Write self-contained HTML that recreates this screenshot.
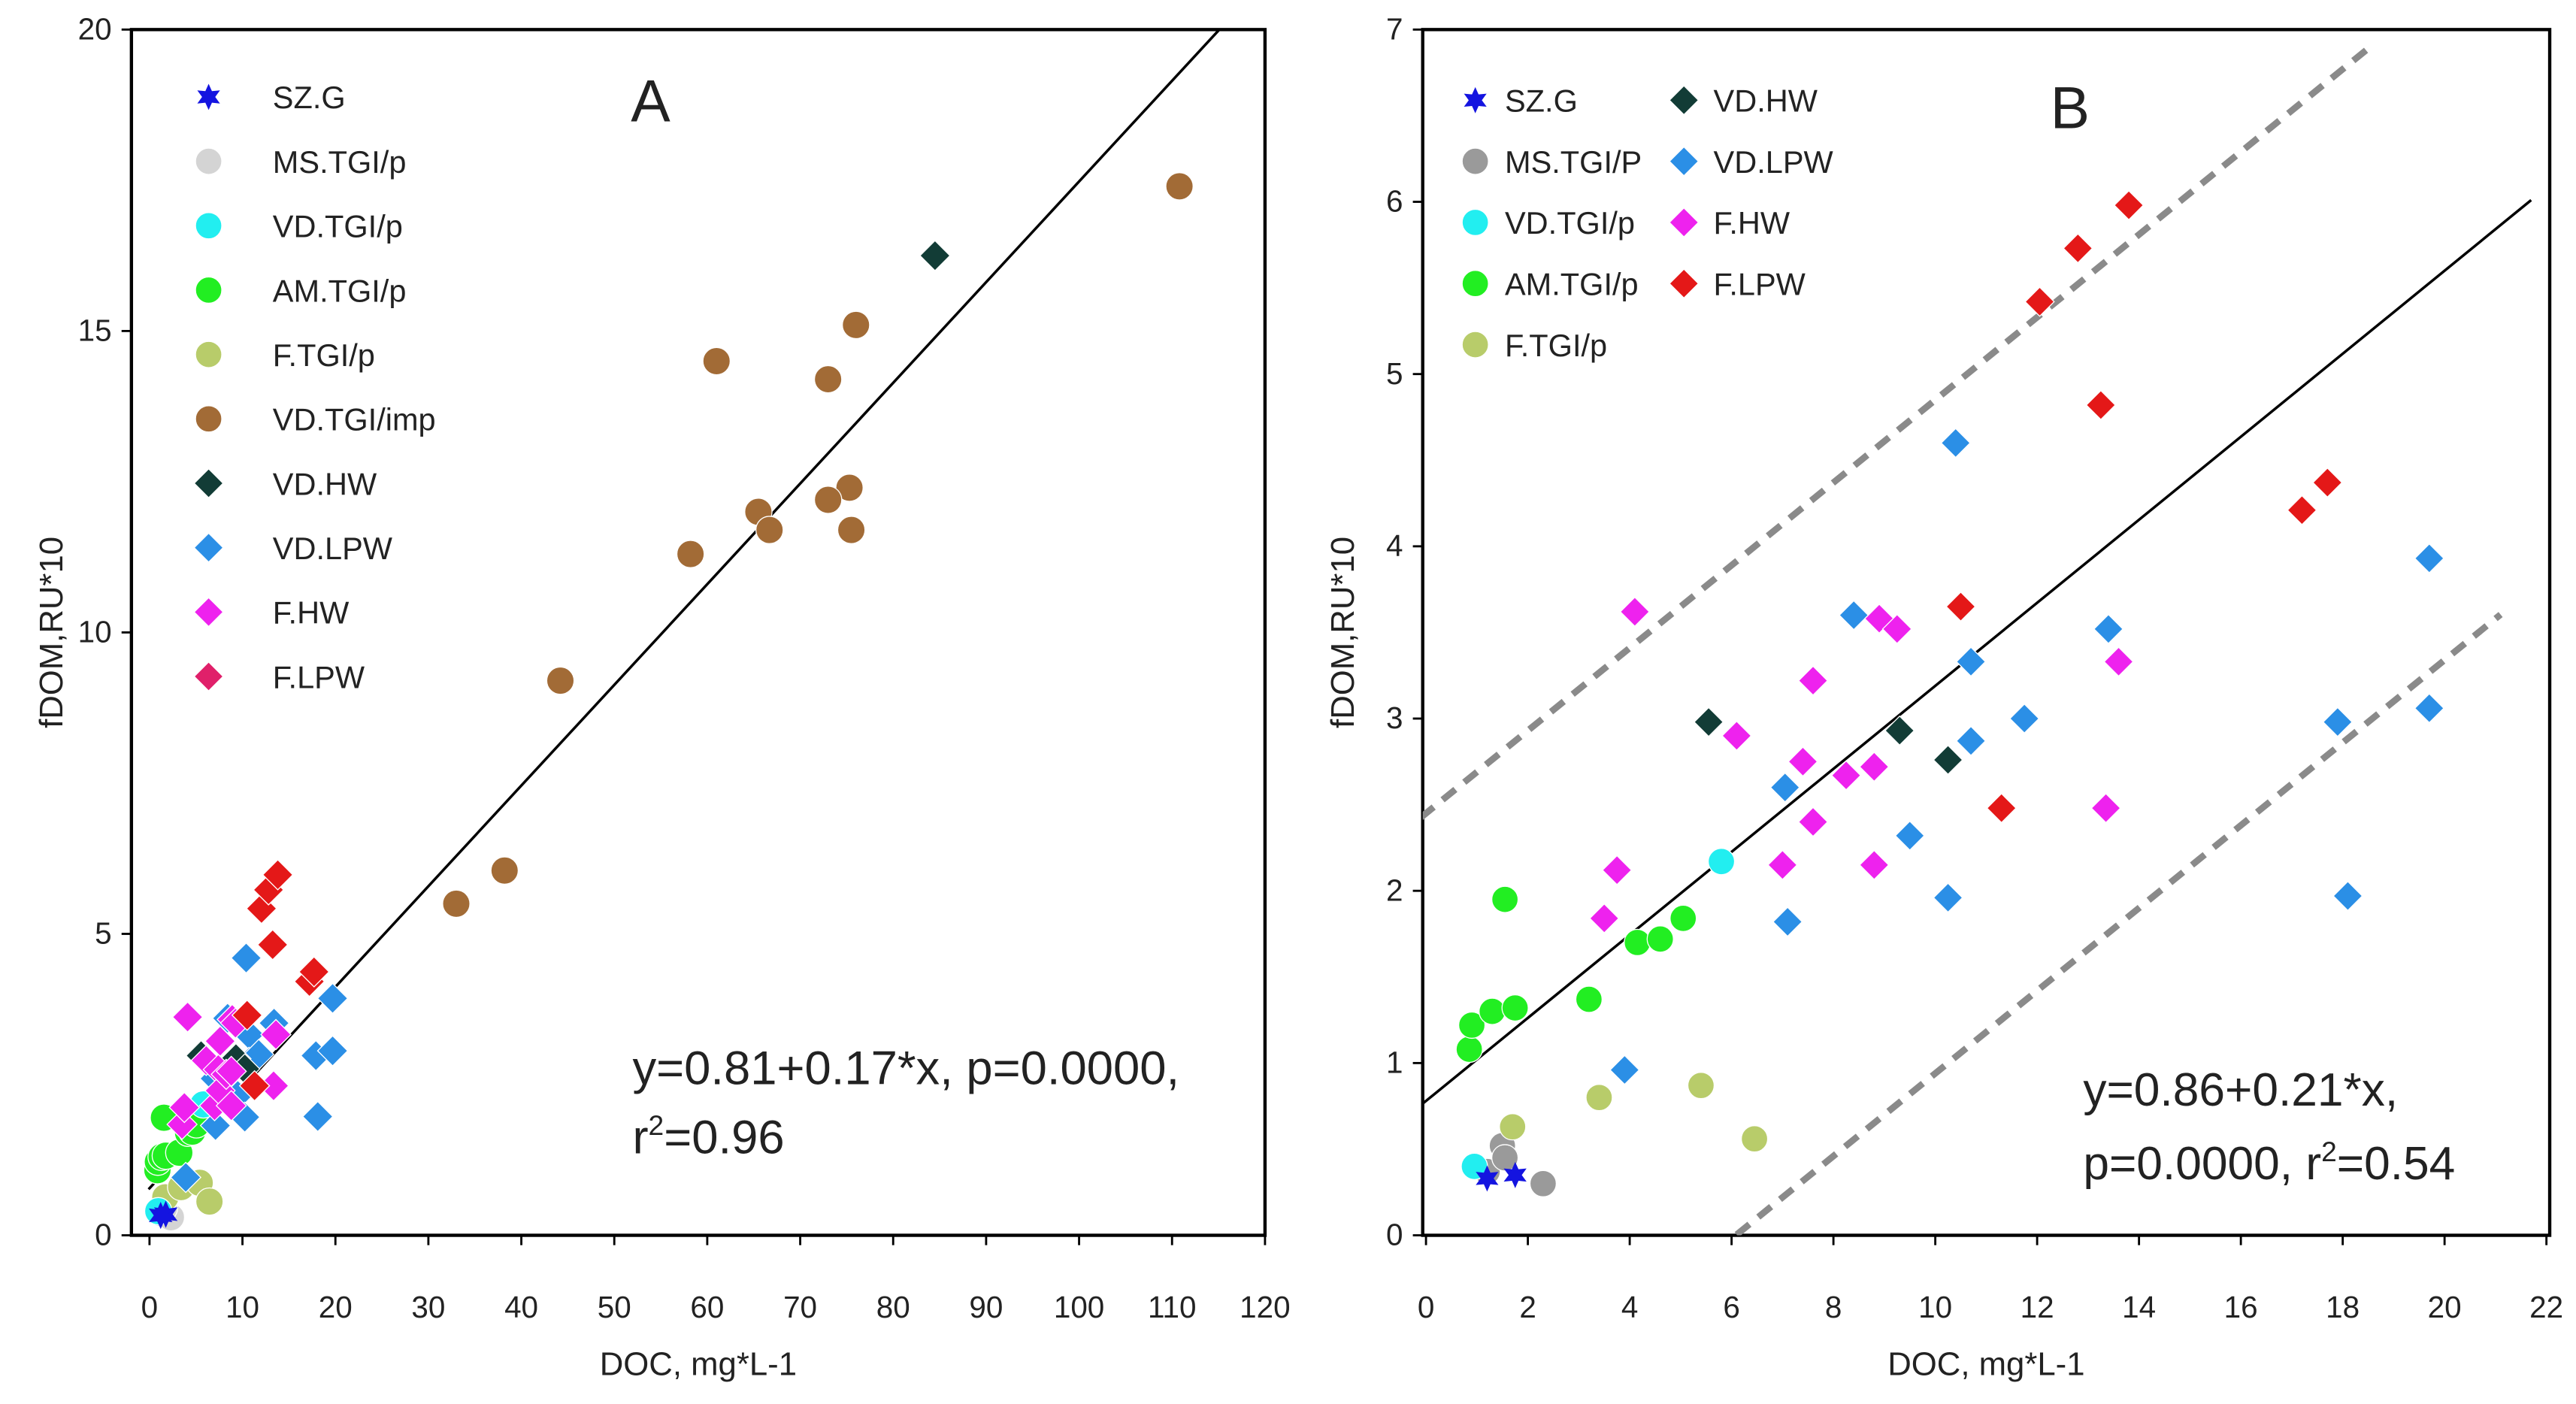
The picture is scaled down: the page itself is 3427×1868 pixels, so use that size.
<!DOCTYPE html>
<html><head><meta charset="utf-8"><style>
html,body{margin:0;padding:0;background:#fff;}
svg{display:block;font-family:"Liberation Sans",sans-serif;}
</style></head><body>
<svg id="chart" width="3427" height="1868" viewBox="0 0 1568 854.7" preserveAspectRatio="none" xmlns="http://www.w3.org/2000/svg">
<rect width="1568" height="855" fill="#fff"/>
<g id="pa"></g>
<g id="pb"></g>
</svg>
<script>
// ---- Data: panel B (also low cluster of panel A) ----
const szgX=[1.75,1.2]; const szgY=[0.35,0.33];
const msX=[1.2,1.5,2.3,1.55]; const msY=[0.37,0.52,0.3,0.45];
const vdpX=[0.95,5.8]; const vdpY=[0.4,2.17];
const amX=[0.85,0.9,1.3,1.75,1.55,3.2,4.15,4.6,5.05]; const amY=[1.08,1.22,1.3,1.32,1.95,1.37,1.7,1.72,1.84];
const ftX=[1.7,3.4,5.4,6.45]; const ftY=[0.63,0.8,0.87,0.56];
const hwX=[5.55,9.3,10.25]; const hwY=[2.98,2.93,2.76];
const lpwX=[3.9,7.1,7.05,8.4,9.5,10.25,10.4,10.7,10.7,11.75,13.4,17.9,18.1,19.7,19.7];
const lpwY=[0.96,1.82,2.6,3.6,2.32,1.96,4.6,3.33,2.87,3.0,3.52,2.98,1.97,3.93,3.06];
const fhwX=[4.1,3.5,3.75,6.1,7,7.4,7.6,7.6,8.25,8.8,8.8,8.9,9.25,13.35,13.6];
const fhwY=[3.62,1.84,2.12,2.9,2.15,2.75,2.4,3.22,2.67,2.72,2.15,3.58,3.52,2.48,3.33];
const flpX=[10.5,11.3,12.05,12.8,13.25,13.8,17.2,17.7];
const flpY=[3.65,2.48,5.42,5.73,4.82,5.98,4.21,4.37];
// ---- Data: panel A extra ----
const impX=[110.8,61,76,73,75.3,73,65.5,66.7,75.5,58.2,44.2,38.2,33];
const impY=[17.4,14.5,15.1,14.2,12.4,12.2,12.0,11.7,11.7,11.3,9.2,6.05,5.5];
const hwAX=[84.5]; const hwAY=[16.25];
const xTicksA=[0,10,20,30,40,50,60,70,80,90,100,110,120];
const yTicksA=[0,5,10,15,20];
const xTicksB=[0,2,4,6,8,10,12,14,16,18,20,22];
const yTicksB=[0,1,2,3,4,5,6,7];
const fitA=[0.78,0.167]; const fitB=[0.78,0.241];
const bandUpper=[2.45,0.24]; const bandLower=[-1.46,0.24];

const NS="http://www.w3.org/2000/svg";
function mk(parent,tag,attrs,text){const e=document.createElementNS(NS,tag);for(const k in attrs)e.setAttribute(k,attrs[k]);if(text!==undefined)e.textContent=text;parent.appendChild(e);return e;}
const C={szg:"#1414e0",msA:"#d4d4d4",msB:"#9a9a9a",vdp:"#22eef0",am:"#22ee22",ft:"#b8cc6a",imp:"#a26b36",hw:"#123c36",lpw:"#2b8fe6",fhw:"#ee22ee",flp:"#e41818",flpA:"#e0206a"};

function marker(g,type,cx,cy,color,s,name){
  let e;
  if(type==="c") e=mk(g,"circle",{cx:cx,cy:cy,r:s,fill:color,stroke:"#fff","stroke-width":0.6});
  else if(type==="d") e=mk(g,"polygon",{points:`${cx},${cy-s*1.1} ${cx+s*1.1},${cy} ${cx},${cy+s*1.1} ${cx-s*1.1},${cy}`,fill:color,stroke:"#fff","stroke-width":0.6});
  else { let p=[];for(let i=0;i<12;i++){const r=i%2?s*0.5:s;const a=-Math.PI/2+i*Math.PI/6;p.push((cx+r*Math.cos(a)).toFixed(1)+","+(cy+r*Math.sin(a)).toFixed(1));}
    e=mk(g,"polygon",{points:p.join(" "),fill:color}); }
  
  
  return e;
}

function panel(g,o){
  const sx=v=>o.x0+(v-o.xmin)*(o.x1-o.x0)/(o.xmax-o.xmin);
  const sy=v=>o.y0-(v-o.ymin)*(o.y0-o.y1)/(o.ymax-o.ymin);
  const clip="clip"+o.id;
  const cp=mk(g,"clipPath",{id:clip});mk(cp,"rect",{x:o.L,y:o.T,width:o.R-o.L,height:o.B-o.T});
  o.xt.forEach(t=>{const x=sx(t);
    const tk=mk(g,"line",{x1:x,y1:o.B,x2:x,y2:o.B+6,stroke:"#000","stroke-width":1.3});
    
    const lb=mk(g,"text",{x:x,y:o.B+50,"font-size":18.5,"text-anchor":"middle",fill:"#222"},String(t));
    });
  o.yt.forEach(t=>{const y=sy(t);
    const tk=mk(g,"line",{x1:o.L-6,y1:y,x2:o.L,y2:y,stroke:"#000","stroke-width":1.3});
    
    const lb=mk(g,"text",{x:o.L-12,y:y+6,"font-size":18.5,"text-anchor":"end",fill:"#222"},String(t));
    });
  const fr=mk(g,"rect",{x:o.L,y:o.T,width:o.R-o.L,height:o.B-o.T,fill:"none",stroke:"#000","stroke-width":2});
  
  const inner=mk(g,"g",{"clip-path":`url(#${clip})`});
  function line(ab,xa,xb,attrs,name){const l=mk(inner,"line",Object.assign({x1:sx(xa),y1:sy(ab[0]+ab[1]*xa),x2:sx(xb),y2:sy(ab[0]+ab[1]*xb)},attrs));
    }
  if(o.bands){
    line(bandUpper,o.xmin-0.1,18.6,{stroke:"#8a8a8a","stroke-width":4,"stroke-dasharray":"10 7"},"upper-prediction-band");
    line(bandLower,6.1,21.1,{stroke:"#8a8a8a","stroke-width":4,"stroke-dasharray":"10 7"},"lower-prediction-band");
  }
  line(o.fit,o.xmin-0.1,o.fitEnd,{stroke:"#000","stroke-width":1.6},"regression-line");
  const S=o.ms;
  o.series.forEach(s=>{for(let i=0;i<s.x.length;i++) marker(inner,s.t,sx(s.x[i]),sy(s.y[i]),s.c,S,s.n);});
  const xt=mk(g,"text",{x:(o.L+o.R)/2,y:837,"font-size":20,"text-anchor":"middle",fill:"#222"},"DOC, mg*L-1");
  
  const yx=o.L-42, yy=(o.T+o.B)/2;
  const yt=mk(g,"text",{x:yx,y:yy,"font-size":20,"text-anchor":"middle",fill:"#222",transform:`rotate(-90 ${yx} ${yy})`},"fDOM,RU*10");
  
}

const gA=document.getElementById("pa"), gB=document.getElementById("pb");
const common=[
 {x:ftX,y:ftY,c:C.ft,t:"c",n:"point-f-tgi-p"},
 {x:amX,y:amY,c:C.am,t:"c",n:"point-am-tgi-p"},
 {x:vdpX,y:vdpY,c:C.vdp,t:"c",n:"point-vd-tgi-p"},
 {x:lpwX,y:lpwY,c:C.lpw,t:"d",n:"point-vd-lpw"},
 {x:hwX,y:hwY,c:C.hw,t:"d",n:"point-vd-hw"},
 {x:fhwX,y:fhwY,c:C.fhw,t:"d",n:"point-f-hw"},
 {x:flpX,y:flpY,c:C.flp,t:"d",n:"point-f-lpw"}];
panel(gA,{id:"A",L:80,R:770,T:18,B:752,x0:91,x1:770,xmin:0,xmax:120,y0:752,y1:18,ymin:0,ymax:20,xt:xTicksA,yt:yTicksA,fit:fitA,fitEnd:120,ms:8.3,
 series:[{x:msX,y:msY,c:C.msA,t:"c",n:"point-ms-tgi-p"}].concat(common,[{x:szgX,y:szgY,c:C.szg,t:"s",n:"point-sz-g"},{x:impX,y:impY,c:C.imp,t:"c",n:"point-vd-tgi-imp"},{x:hwAX,y:hwAY,c:C.hw,t:"d",n:"point-vd-hw"}])});
panel(gB,{id:"B",L:866,R:1552,T:18,B:752,x0:868,x1:1550,xmin:0,xmax:22,y0:752,y1:18,ymin:0,ymax:7,xt:xTicksB,yt:yTicksB,fit:fitB,fitEnd:21.7,ms:8,bands:true,
 series:[{x:msX,y:msY,c:C.msB,t:"c",n:"point-ms-tgi-p"}].concat(common,[{x:szgX,y:szgY,c:C.szg,t:"s",n:"point-sz-g"}])});

function legend(g,items,name,tx){
  items.forEach(it=>{
    const lg=mk(g,"g",{});
    
    marker(lg,it[3],it[0],it[1],it[4],8,"legend-marker");
    const t=mk(lg,"text",{x:it[0]+tx,y:it[1]+7,"font-size":19,fill:"#222"},it[2]);
    
  });
}
const labA=["SZ.G","MS.TGI/p","VD.TGI/p","AM.TGI/p","F.TGI/p","VD.TGI/imp","VD.HW","VD.LPW","F.HW","F.LPW"];
const typA=["s","c","c","c","c","c","d","d","d","d"];
const colA=[C.szg,C.msA,C.vdp,C.am,C.ft,C.imp,C.hw,C.lpw,C.fhw,C.flpA];
legend(gA,labA.map((l,i)=>[127,59+i*39.2,l,typA[i],colA[i]]),"legend-entry",39);
const labB1=["SZ.G","MS.TGI/P","VD.TGI/p","AM.TGI/p","F.TGI/p"], colB1=[C.szg,C.msB,C.vdp,C.am,C.ft], typB1=["s","c","c","c","c"];
const labB2=["VD.HW","VD.LPW","F.HW","F.LPW"], colB2=[C.hw,C.lpw,C.fhw,C.flp];
legend(gB,labB1.map((l,i)=>[898,61+i*37.2,l,typB1[i],colB1[i]]),"legend-entry",18);
legend(gB,labB2.map((l,i)=>[1025,61+i*37.2,l,"d",colB2[i]]),"legend-entry",18);

const la=mk(gA,"text",{x:396,y:74,"font-size":36,"text-anchor":"middle",fill:"#222"},"A");

const lb=mk(gB,"text",{x:1260,y:78,"font-size":36,"text-anchor":"middle",fill:"#222"},"B");

const ea=mk(gA,"text",{x:385,y:660,"font-size":29,fill:"#222"},"y=0.81+0.17*x, p=0.0000,");

const ea2=mk(gA,"text",{x:385,y:702,"font-size":29,fill:"#222"});
ea2.innerHTML='r<tspan font-size="17" dy="-11">2</tspan><tspan dy="11">=0.96</tspan>';

const eb=mk(gB,"text",{x:1268,y:673,"font-size":28.5,fill:"#222"},"y=0.86+0.21*x,");

const eb2=mk(gB,"text",{x:1268,y:718,"font-size":28.5,fill:"#222"});
eb2.innerHTML='p=0.0000, r<tspan font-size="17" dy="-11">2</tspan><tspan dy="11">=0.54</tspan>';

</script>
</body></html>
